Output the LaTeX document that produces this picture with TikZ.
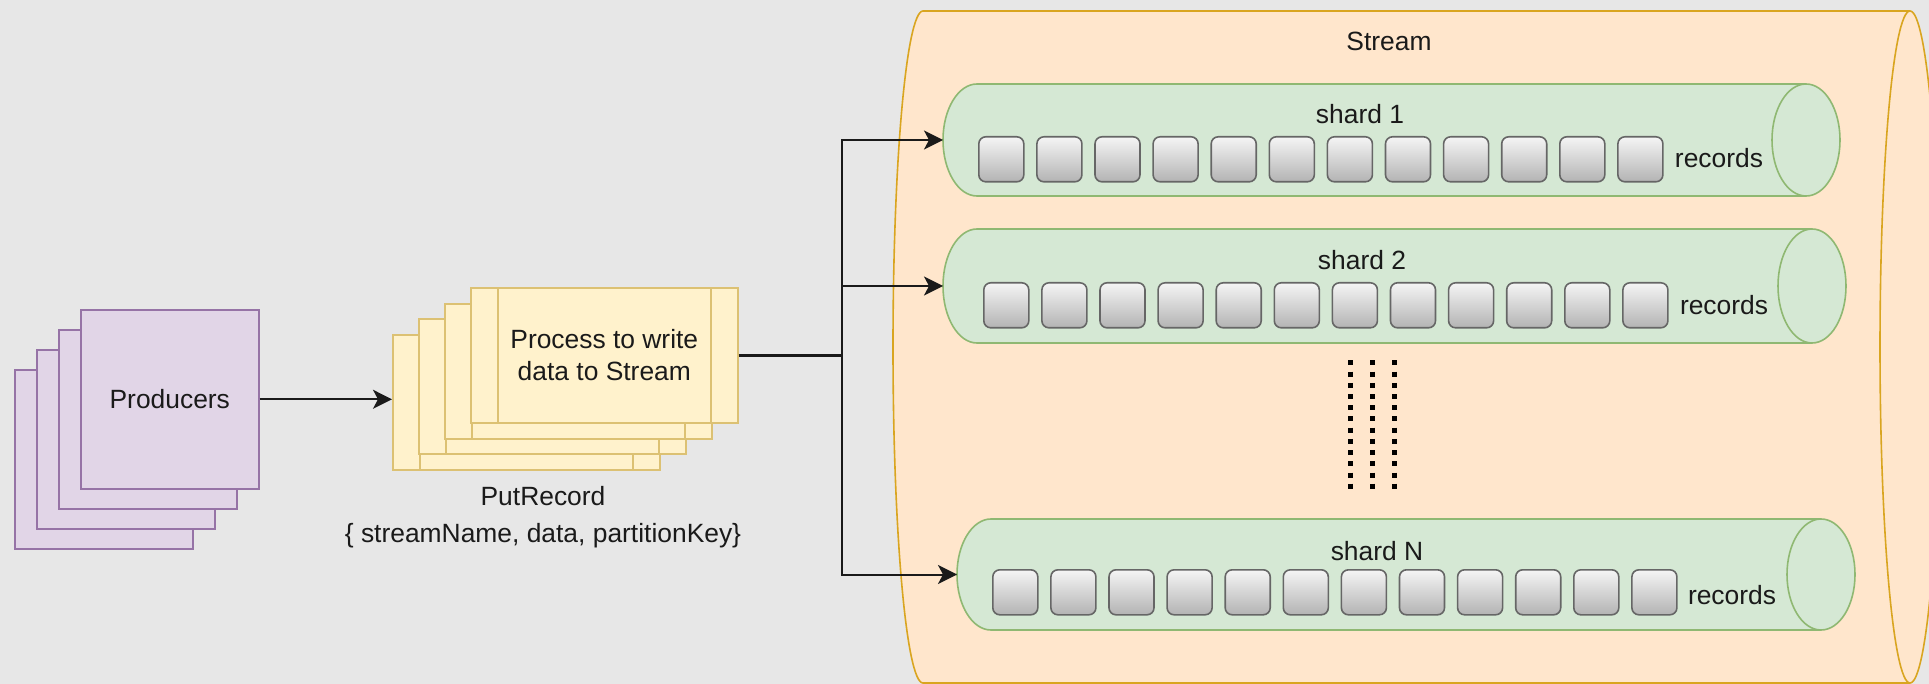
\documentclass[tikz,border=0pt]{standalone}
\usepackage{fontspec}
\setmainfont{Liberation Sans}
\usetikzlibrary{arrows.meta,fit}
\definecolor{bg}{HTML}{E7E7E7}
\definecolor{txt}{HTML}{1A1A1A}
\definecolor{prodfill}{HTML}{E1D5E7}
\definecolor{prodline}{HTML}{9673A6}
\definecolor{procfill}{HTML}{FFF2CC}
\definecolor{procline}{HTML}{DCC173}
\definecolor{strfill}{HTML}{FFE6CC}
\definecolor{strline}{HTML}{D9A520}
\definecolor{shfill}{HTML}{D5E8D4}
\definecolor{shline}{HTML}{8FB872}
\definecolor{rectop}{HTML}{F5F5F5}
\definecolor{recbot}{HTML}{B3B3B3}
\definecolor{recline}{HTML}{666666}
\definecolor{conncol}{HTML}{1A1A1A}
\newcommand\drawhcyl[7]{% x1 y1 x2 y2 rx fill draw  (px units)
  \pgfmathsetmacro\cylry{(#4-#2)/4}%
  \pgfmathsetmacro\cylrx{#5/2}%
  \filldraw[fill=#6,draw=#7,line width=0.8pt] (#1+#5,#2) -- (#3-#5,#2)
    arc[start angle=90,end angle=-90,x radius=\cylrx pt,y radius=\cylry pt]
    -- (#1+#5,#4)
    arc[start angle=270,end angle=90,x radius=\cylrx pt,y radius=\cylry pt] -- cycle;
  \draw[draw=#7,line width=0.8pt] (#3-#5,#2)
    arc[start angle=90,end angle=270,x radius=\cylrx pt,y radius=\cylry pt];
}
\tikzset{
  lbl/.style={font=\fontsize{13.2pt}{16pt}\selectfont, text=txt, inner sep=0pt},
  prodbox/.style={draw=prodline, fill=prodfill, line width=0.8pt,
    minimum width=89pt, minimum height=89.5pt, anchor=north west, inner sep=0pt},
  procbox/.style={draw=procline, fill=procfill, line width=0.8pt,
    minimum width=133.5pt, minimum height=67.5pt, anchor=north west, inner sep=0pt,
    path picture={
      \draw[procline,line width=0.8pt] ([xshift=13.5pt]path picture bounding box.north west) -- ([xshift=13.5pt]path picture bounding box.south west);
      \draw[procline,line width=0.8pt] ([xshift=-13.5pt]path picture bounding box.north east) -- ([xshift=-13.5pt]path picture bounding box.south east);
    }},
  rec/.style={draw=recline, line width=0.8pt, rounded corners=3.5pt,
    top color=rectop, bottom color=recbot, minimum size=22.5pt,
    anchor=north west, inner sep=0pt},
  region/.style={inner sep=0pt, outer sep=0pt},
  conn/.style={draw=conncol, line width=1pt,
    -{Stealth[length=9.5pt,width=9.5pt,inset=2.5pt]}},
  thickconn/.style={draw=conncol, line width=1.7pt},
  dotcol/.style={draw=black, line width=2.5pt, dash pattern=on 2.5pt off 3.1pt}
}
\begin{document}
\begin{tikzpicture}[x=0.5pt,y=-0.5pt]
\useasboundingbox (0,0) rectangle (1929,684);
\clip (0,0) rectangle (1929,684);
\fill[bg] (0,0) rectangle (1929,684);

% Stream cylinder
\drawhcyl{893}{11}{1940}{683}{30}{strfill}{strline}
\node[region, fit={(893,11) (1940,683)}] (stream) {};
\node[lbl, anchor=base] (streamlbl) at (1389,51) {Stream};

% shards
\drawhcyl{943}{84}{1840}{196}{34}{shfill}{shline}
\node[region, fit={(943,84) (1840,196)}] (s1) {};
\drawhcyl{943}{229}{1846}{343}{34}{shfill}{shline}
\node[region, fit={(943,229) (1846,343)}] (s2) {};
\drawhcyl{957}{519}{1855}{630}{34}{shfill}{shline}
\node[region, fit={(957,519) (1855,630)}] (sN) {};

\node[lbl, anchor=base] (s1lbl) at (1360,124) {shard 1};
\node[lbl, anchor=base] (s2lbl) at (1362,270) {shard 2};
\node[lbl, anchor=base] (sNlbl) at (1377,560) {shard N};

\foreach \i in {0,...,11} {
  \node[rec] (ra\i) at (978+58.1*\i,136) {};
  \node[rec] (rb\i) at (983+58.1*\i,282) {};
  \node[rec] (rc\i) at (992+58.1*\i,569) {};
}
\node[lbl, anchor=base] (rlbl1) at (1719,168) {records};
\node[lbl, anchor=base] (rlbl2) at (1724,315) {records};
\node[lbl, anchor=base] (rlblN) at (1732,604) {records};

% ellipsis dots
\draw[dotcol] (1350,360.5) -- (1350,488.7);
\draw[dotcol] (1372,360.5) -- (1372,488.7);
\draw[dotcol] (1394,360.5) -- (1394,488.7);

% producers
\node[prodbox] (prod4) at (14,369) {};
\node[prodbox] (prod3) at (36,349) {};
\node[prodbox] (prod2) at (58,329) {};
\node[prodbox, lbl] (prod1) at (80,309) {Producers};

% process
\node[procbox] (proc4) at (392,334) {};
\node[procbox] (proc3) at (418,318) {};
\node[procbox] (proc2) at (444,303) {};
\node[procbox, lbl, align=center] (proc1) at (470,287) {Process to write\\data to Stream};
\node[lbl, align=center, anchor=north, font=\fontsize{13.2pt}{18.5pt}\selectfont] (put) at (543,486)
  {PutRecord\\\{ streamName, data, partitionKey\}};

% connectors
\draw[conn] (prod1.east) -- (prod1.east -| proc4.west);
\path (proc1.east) ++(103,0) coordinate (junc);
\draw[thickconn] (proc1.east) -- (junc);
\draw[conn] (junc) |- (s1.west);
\draw[conn] (junc) |- (s2.west);
\draw[conn] (junc) |- (sN.west);
\end{tikzpicture}
\end{document}
